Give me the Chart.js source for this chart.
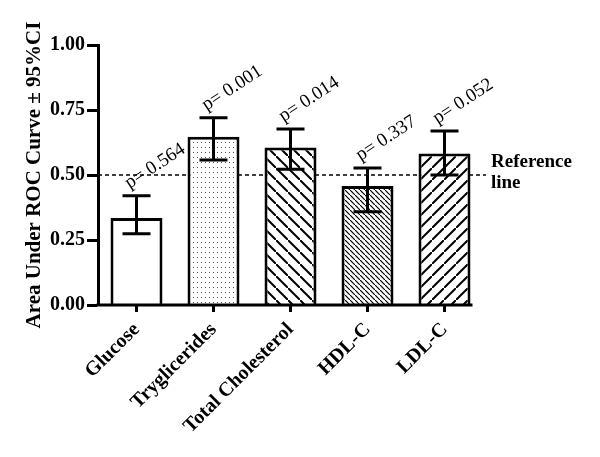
<!DOCTYPE html>
<html>
<head>
<meta charset="utf-8">
<script src="https://cdn.jsdelivr.net/npm/chart.js@4.4.0/dist/chart.umd.min.js"></script>
<style>
  html, body { margin: 0; padding: 0; background: #fff; }
  #wrap { width: 600px; height: 457px; }
</style>
</head>
<body>
<div id="wrap"><canvas id="roc-chart" width="600" height="457"></canvas></div>
<script>
// data
const categories = ['Glucose', 'Tryglicerides', 'Total Cholesterol', 'HDL-C', 'LDL-C'];
const aucValues = [0.335, 0.647, 0.606, 0.458, 0.583];
const ciLow = [0.274, 0.558, 0.522, 0.359, 0.500];
const ciHigh = [0.420, 0.720, 0.677, 0.527, 0.669];
const pValues = ['0.564', '0.001', '0.014', '0.337', '0.052'];
const referenceValue = 0.5;
const yTicks = [0, 0.25, 0.5, 0.75, 1];

const SERIF = '"Liberation Serif", "Times New Roman", serif';

// fill patterns
function makePattern(kind) {
    const c = document.createElement('canvas');
    const x = c.getContext('2d');
    let w = 12, h = 12;
    if (kind === 'dots') { w = 4; h = 5; }
    if (kind === 'fine') { w = 5; h = 5; }
    c.width = w; c.height = h;
    x.fillStyle = '#fff';
    x.fillRect(0, 0, w, h);
    x.strokeStyle = '#000';
    if (kind === 'dots') {
        x.fillStyle = '#555';
        x.fillRect(1, 2, 1, 1);
    } else if (kind === 'back') {
        x.lineWidth = 2;
        x.beginPath();
        x.moveTo(-2, -2); x.lineTo(w + 2, h + 2);
        x.stroke();
    } else if (kind === 'fine') {
        x.lineWidth = 1.2;
        x.beginPath();
        x.moveTo(-2, -2); x.lineTo(w + 2, h + 2);
        x.stroke();
    } else if (kind === 'fwd') {
        x.lineWidth = 2;
        x.beginPath();
        x.moveTo(-2, h + 2); x.lineTo(w + 2, -2);
        x.stroke();
    }
    return document.getElementById('roc-chart').getContext('2d').createPattern(c, 'repeat');
}

const fills = ['#fff', makePattern('dots'), makePattern('back'), makePattern('fine'), makePattern('fwd')];

// reference line, axis line, error bars and p labels
const extras = {
    id: 'extras',
    beforeDatasetsDraw(chart) {
        const ctx = chart.ctx;
        const area = chart.chartArea;
        const y = chart.scales.y.getPixelForValue(referenceValue);
        ctx.save();
        ctx.strokeStyle = '#000';
        ctx.lineWidth = 1.3;
        ctx.setLineDash([4, 3]);
        ctx.beginPath();
        ctx.moveTo(area.left, y);
        ctx.lineTo(area.right + 3, y);
        ctx.stroke();
        ctx.restore();
    },
    afterDatasetsDraw(chart) {
        const ctx = chart.ctx;
        const area = chart.chartArea;
        const ys = chart.scales.y;
        const bars = chart.getDatasetMeta(0).data;
        ctx.save();
        ctx.strokeStyle = '#000';
        ctx.lineWidth = 3;
        ctx.lineCap = 'butt';
        // x axis line, stops just past the last bar
        const last = bars[bars.length - 1];
        ctx.beginPath();
        ctx.moveTo(area.left - 1.5, area.bottom);
        ctx.lineTo(last.x + last.width / 2 + 2, area.bottom);
        ctx.stroke();
        // error bars
        bars.forEach((bar, i) => {
            const top = ys.getPixelForValue(ciHigh[i]);
            const bot = ys.getPixelForValue(ciLow[i]);
            ctx.beginPath();
            ctx.moveTo(bar.x, top); ctx.lineTo(bar.x, bot);
            ctx.moveTo(bar.x - 14, top); ctx.lineTo(bar.x + 14, top);
            ctx.moveTo(bar.x - 14, bot); ctx.lineTo(bar.x + 14, bot);
            ctx.stroke();
            // p value label
            ctx.save();
            ctx.translate(bar.x - 7, top - 7);
            ctx.rotate(-33 * Math.PI / 180);
            ctx.fillStyle = '#000';
            ctx.font = '19px ' + SERIF;
            ctx.textAlign = 'left';
            ctx.textBaseline = 'alphabetic';
            ctx.fillText('p= ' + pValues[i], 0, 0);
            ctx.restore();
        });
        // reference line label
        const ry = ys.getPixelForValue(referenceValue);
        ctx.fillStyle = '#000';
        ctx.font = 'bold 19px ' + SERIF;
        ctx.textAlign = 'left';
        ctx.fillText('Reference', area.right + 8, ry - 8);
        ctx.fillText('line', area.right + 8, ry + 13);
        ctx.restore();
    }
};

window.onload = function() {
    const ctx = document.getElementById('roc-chart').getContext('2d');
    new Chart(ctx, {
        type: 'bar',
        data: {
            labels: categories,
            datasets: [{
                data: aucValues,
                backgroundColor: fills,
                borderColor: '#000',
                borderWidth: 3,
                barPercentage: 0.675,
                categoryPercentage: 1.0
            }]
        },
        options: {
            responsive: false,
            animation: false,
            events: [],
            layout: { padding: { top: 45, right: 117, left: 0, bottom: 0 } },
            plugins: {
                legend: { display: false },
                tooltip: { enabled: false }
            },
            scales: {
                x: {
                    afterFit(scale) { scale.height = 152; },
                    border: { display: false },
                    grid: {
                        offset: false,
                        drawOnChartArea: false,
                        drawTicks: true,
                        tickLength: 7,
                        tickWidth: 3,
                        tickColor: '#000'
                    },
                    ticks: {
                        color: '#000',
                        font: { family: SERIF, size: 20, weight: 'bold' },
                        maxRotation: 45,
                        minRotation: 45,
                        autoSkip: false,
                        padding: 6
                    }
                },
                y: {
                    min: 0,
                    max: 1,
                    afterFit(scale) { scale.width = 98; },
                    afterBuildTicks(scale) { scale.ticks = yTicks.map(v => ({ value: v })); },
                    border: { display: true, color: '#000', width: 3 },
                    grid: {
                        drawOnChartArea: false,
                        drawTicks: true,
                        tickLength: 11,
                        tickWidth: 3,
                        tickColor: '#000'
                    },
                    ticks: {
                        color: '#000',
                        font: { family: SERIF, size: 20, weight: 'bold' },
                        padding: 2,
                        callback: v => Number(v).toFixed(2)
                    },
                    title: {
                        display: true,
                        text: 'Area Under ROC Curve \u00b1 95%CI',
                        color: '#000',
                        font: { family: SERIF, size: 21, weight: 'bold' },
                        padding: { top: 22, bottom: 0 }
                    }
                }
            }
        },
        plugins: [extras]
    });
};
</script>
</body>
</html>
